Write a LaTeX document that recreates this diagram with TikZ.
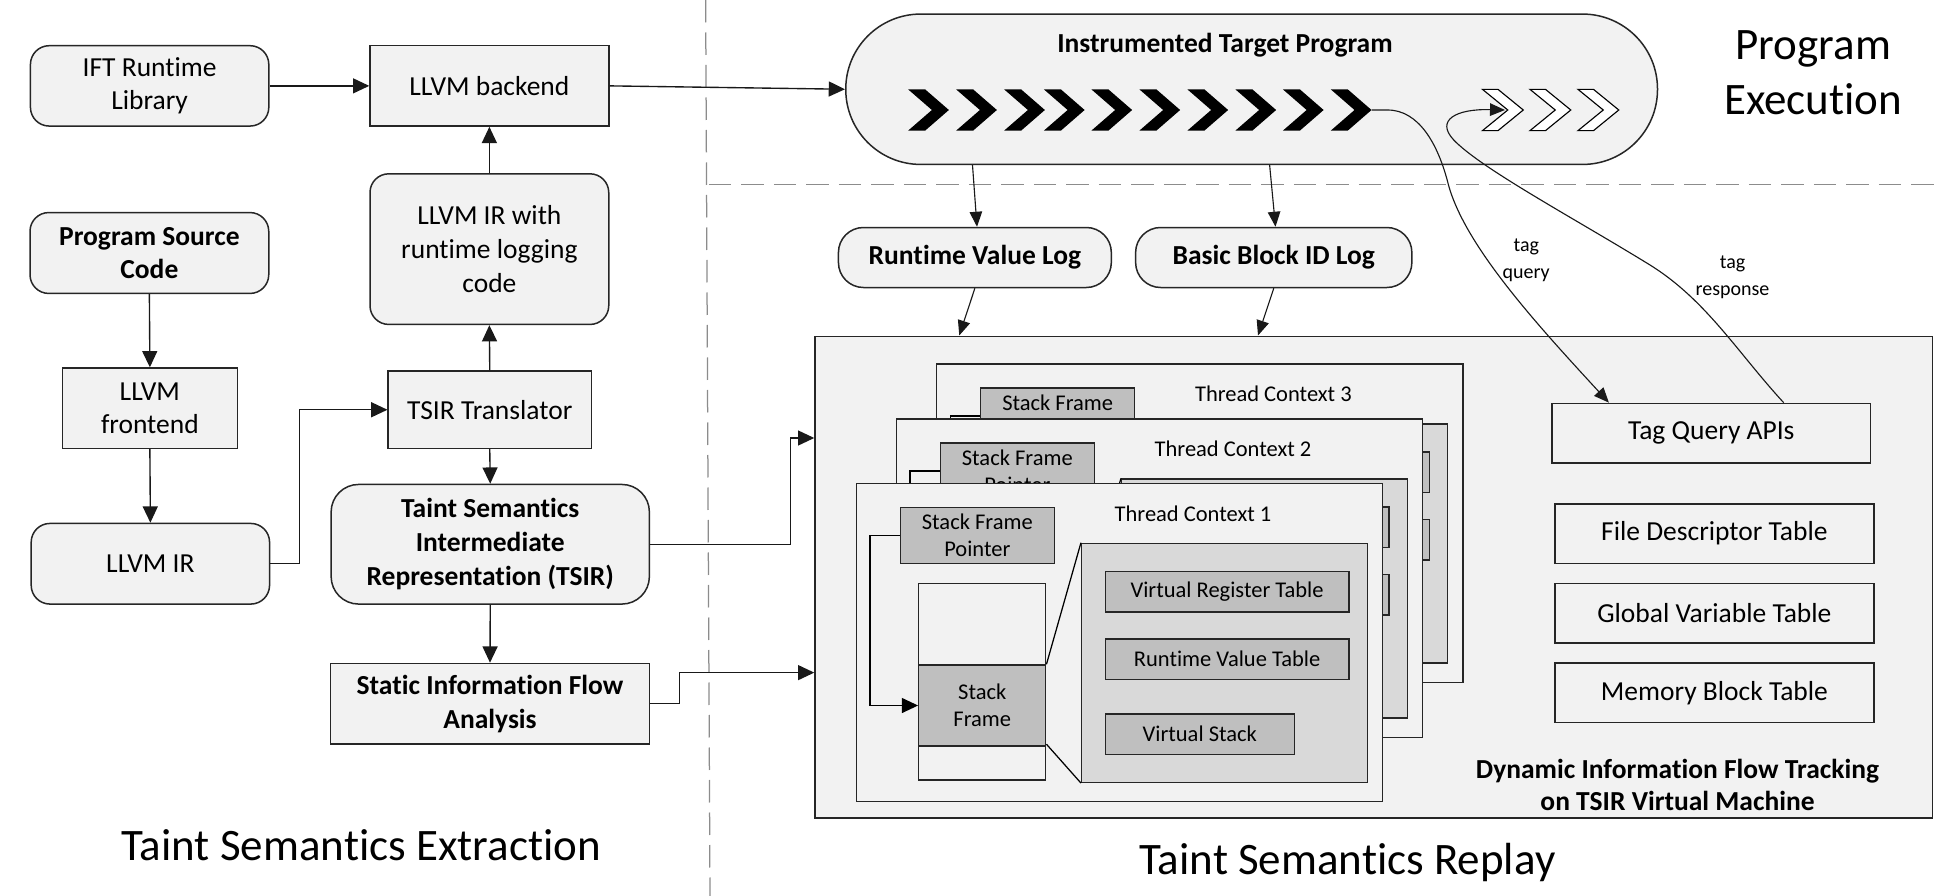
\documentclass[tikz,border=0pt]{standalone}
\usepackage{fontspec}
\setmainfont{Carlito}[Ligatures=NoCommon]
\usetikzlibrary{arrows.meta,calc}
\definecolor{boxfill}{HTML}{F2F2F2}
\definecolor{midgray}{HTML}{BFBFBF}
\definecolor{panelgray}{HTML}{D9D9D9}
\definecolor{dashgray}{HTML}{8C8C8C}
\newcommand\fs[2]{\fontsize{#1}{#2}\selectfont}
\tikzset{
  box/.style={draw=black!85, line width=1.2pt, fill=boxfill, align=center, inner sep=0pt, font=\fs{22}{27}},
  rbox/.style={box, rounded corners=15},
  bbox/.style={box, font=\fs{22}{27}\bfseries},
  rbbox/.style={rbox, font=\fs{22}{27}\bfseries},
  arr/.style={line width=1.1pt, draw=black!90, -{Triangle[length=13pt,width=12pt]}},
  thinarr/.style={line width=0.9pt, draw=black!90, -{Triangle[length=12pt,width=10pt]}},
  conn/.style={line width=1.1pt, draw=black!90},
  dashline/.style={draw=dashgray, line width=1pt, dash pattern=on 18pt off 8pt},
  tcbox/.style={draw=black!85, line width=1.1pt, fill=boxfill, inner sep=0pt},
  tctext/.style={font=\fs{18}{21.5}, inner sep=0pt},
  sfp/.style={draw=black!85, line width=1.1pt, fill=midgray, align=center, inner sep=0pt, font=\fs{18}{21.5}},
  tbl/.style={sfp},
  colbox/.style={draw=black!85, line width=1.1pt, fill=boxfill, inner sep=0pt},
  panelbox/.style={draw=black!85, line width=1.1pt, fill=panelgray, inner sep=0pt},
  title/.style={font=\fs{36}{42}, align=center, inner sep=0pt},
  taglab/.style={font=\fs{16}{21.5}, align=center, inner sep=0pt}
}
\newcommand\tcontext[3]{%
\begin{scope}[shift={(#1,#2)}]
 \node[tcbox, minimum width=421.1, minimum height=254.7] (tc#3) at (895.65,514.05) {};
 \node[tctext] (tct#3) at (954.4,410.7) {Thread Context #3};
 \node[sfp, minimum width=123.1, minimum height=44.8] (sfp#3) at (781.85,428.3) {Stack Frame\\Pointer};
 \node[colbox, minimum width=101.6, minimum height=157.3] (col#3) at (785.8,545.35) {};
 \node[sfp, minimum width=101.6, minimum height=64.8] (sf#3) at (785.8,564.4) {\ifnum#3=1 Stack\\Frame\fi};
 \node[panelbox, minimum width=228.5, minimum height=191.2] (pan#3) at (979.55,530.3) {};
 \node[tbl, minimum width=194.9, minimum height=32.5] (vrt#3) at (981.65,473.35) {\ifnum#3=1 Virtual Register Table\fi};
 \node[tbl, minimum width=194.9, minimum height=32.5] (rvt#3) at (981.65,527.35) {\ifnum#3=1 Runtime Value Table\fi};
 \node[tbl, minimum width=151.2, minimum height=32.5] (vs#3) at (959.8,587.35) {\ifnum#3=1 Virtual Stack\fi};
 \draw[line width=1pt] (sf#3.north east) -- (pan#3.north west);
 \draw[line width=1pt] ($(sf#3.south east)+(0,-2)$) -- (pan#3.south west);
 \draw[line width=1.1pt, -{Triangle[length=13pt,width=12pt]}] (sfp#3.west) -- ++(-23.8,0) |- (sf#3.west);
\end{scope}}
\newcommand\chevb[1]{\fill[black] (#1,71.5) -- ++(13.6,0) -- ++(19,16.5) -- ++(-19,16.5) -- ++(-13.6,0) -- ++(19,-16.5) -- cycle;}
\newcommand\chevw[1]{\draw[fill=white, line width=0.9pt] (#1,71.5) -- ++(12.4,0) -- ++(20.2,16.5) -- ++(-20.2,16.5) -- ++(-12.4,0) -- ++(20.2,-16.5) -- cycle;}
\begin{document}
\begin{tikzpicture}[x=1pt,y=-1pt]
\fill[white] (0,0) rectangle (1564.8,716.8);
\useasboundingbox (0,0) rectangle (1564.8,716.8);

% dashed separators
\draw[dashline] (564.5,0) -- (568,716.8);
\draw[dashline] (567,147.5) -- (1552,147.5);

% left column
\node[rbox, minimum width=190.7, minimum height=64.3] (ift) at (119.7,68.7) {IFT Runtime\\Library};
\node[box, minimum width=191, minimum height=64.3] (backend) at (391.5,68.7) {LLVM backend};
\node[rbox, minimum width=191, minimum height=120.5] (logir) at (391.5,199.3) {LLVM IR with\\runtime logging\\code};
\node[rbbox, minimum width=191, minimum height=64.7] (psc) at (119.5,202.4) {Program Source\\Code};
\node[box, minimum width=139.8, minimum height=64.3] (frontend) at (119.9,326.6) {LLVM\\frontend};
\node[box, minimum width=162.5, minimum height=61.9] (translator) at (391.8,327.8) {TSIR Translator};
\node[rbox, minimum width=190.7, minimum height=64.5] (llvmir) at (120.3,451) {LLVM IR};
\node[rbbox, rounded corners=22, minimum width=254.6, minimum height=95.7] (tsir) at (392.2,435.4) {Taint Semantics\\Intermediate\\Representation (TSIR)};
\node[bbox, minimum width=255, minimum height=64.5] (static) at (392,563) {Static Information Flow\\Analysis};

% program execution
\node[box, rounded corners=60, minimum width=649.4, minimum height=120.3] (itp) at (1001.3,71.4) {};
\node[font=\fs{22}{26}\bfseries, inner sep=0pt] (itpt) at (980,36.5) {Instrumented Target Program};
\foreach \cx in {726.5,764.9,803.3,835.1,873.1,911.5,949.9,988.3,1026.3,1064.6} {\chevb{\cx}}
\foreach \cx in {1186,1224,1262.4} {\chevw{\cx}}
\coordinate (qs) at (1097.2,88);
\coordinate (re) at (1204,88);

\node[rbbox, rounded corners=20, minimum width=218.3, minimum height=48] (rvl) at (779.9,206) {Runtime Value Log};
\node[rbbox, rounded corners=20, minimum width=221, minimum height=48] (bbl) at (1019,206) {Basic Block ID Log};

% DIFT VM
\node[box, minimum width=894, minimum height=385.2] (vm) at (1099,461.6) {};
\tcontext{64.3}{-95.5}{3}
\tcontext{32}{-51.5}{2}
\tcontext{0}{0}{1}
\node[box, minimum width=255, minimum height=47.8] (tq) at (1369,346.6) {Tag Query APIs};
\node[box, minimum width=255, minimum height=47.6] (fd) at (1371.5,426.8) {File Descriptor Table};
\node[box, minimum width=255, minimum height=47.6] (gv) at (1371.5,490.6) {Global Variable Table};
\node[box, minimum width=255, minimum height=47.6] (mb) at (1371.5,554.2) {Memory Block Table};
\node[font=\fs{22}{25}\bfseries, align=center, inner sep=0pt] (vmt) at (1342,628) {Dynamic Information Flow Tracking\\on TSIR Virtual Machine};

% connectors left
\draw[arr] (ift.east) -- (backend.west);
\draw[arr] (psc.south) -- (frontend.north);
\draw[arr] (frontend.south) -- (llvmir.north);
\draw[arr] (llvmir.east) -- ++(23.4,0) |- (translator.west);
\draw[arr] (translator.north) -- (logir.south);
\draw[arr] (logir.north) -- (backend.south);
\draw[arr] (translator.south) -- (tsir.north);
\draw[arr] (tsir.south) -- (static.north);
\draw[arr] (tsir.east) -- ++(112.3,0) |- ($(vm.north west)+(0,82)$);
\draw[arr] (static.east) -- ++(23.5,0) |- ($(vm.north west)+(0,269.7)$);
\draw[arr] (backend.east) -- (itp.west);

% connectors right
\draw[thinarr] ($(itp.south west)+(102,0)$) -- ($(rvl.north)+(1.7,0)$);
\draw[thinarr] ($(itp.south west)+(339.7,0)$) -- ($(bbl.north)+(1.4,0)$);
\draw[thinarr] (rvl.south) -- ($(vm.north west)+(116,0)$);
\draw[thinarr] (bbl.south) -- ($(vm.north west)+(355,0)$);
\draw[thinarr] (qs) -- (1110,88) .. controls (1135,88) and (1150,115) .. (1158,145) .. controls (1170,195) and (1230,260) .. ($(tq.north west)+(46.2,0)$);
\draw[thinarr] ($(tq.north west)+(186,0)$) .. controls (1390,282) and (1365,240) .. (1320,212) .. controls (1260,175) and (1185,135) .. (1163,112) .. controls (1148,96) and (1165,87) .. (re);
\node[taglab] (tql) at (1221,208) {tag\\query};
\node[taglab] (trl) at (1386,222) {tag\\response};

% titles
\node[title] (t1) at (289,676) {Taint Semantics Extraction};
\node[title] (t2) at (1078,690) {Taint Semantics Replay};
\node[title, font=\fs{36}{44}] (t3) at (1450.6,58) {Program\\Execution};
\end{tikzpicture}
\end{document}
